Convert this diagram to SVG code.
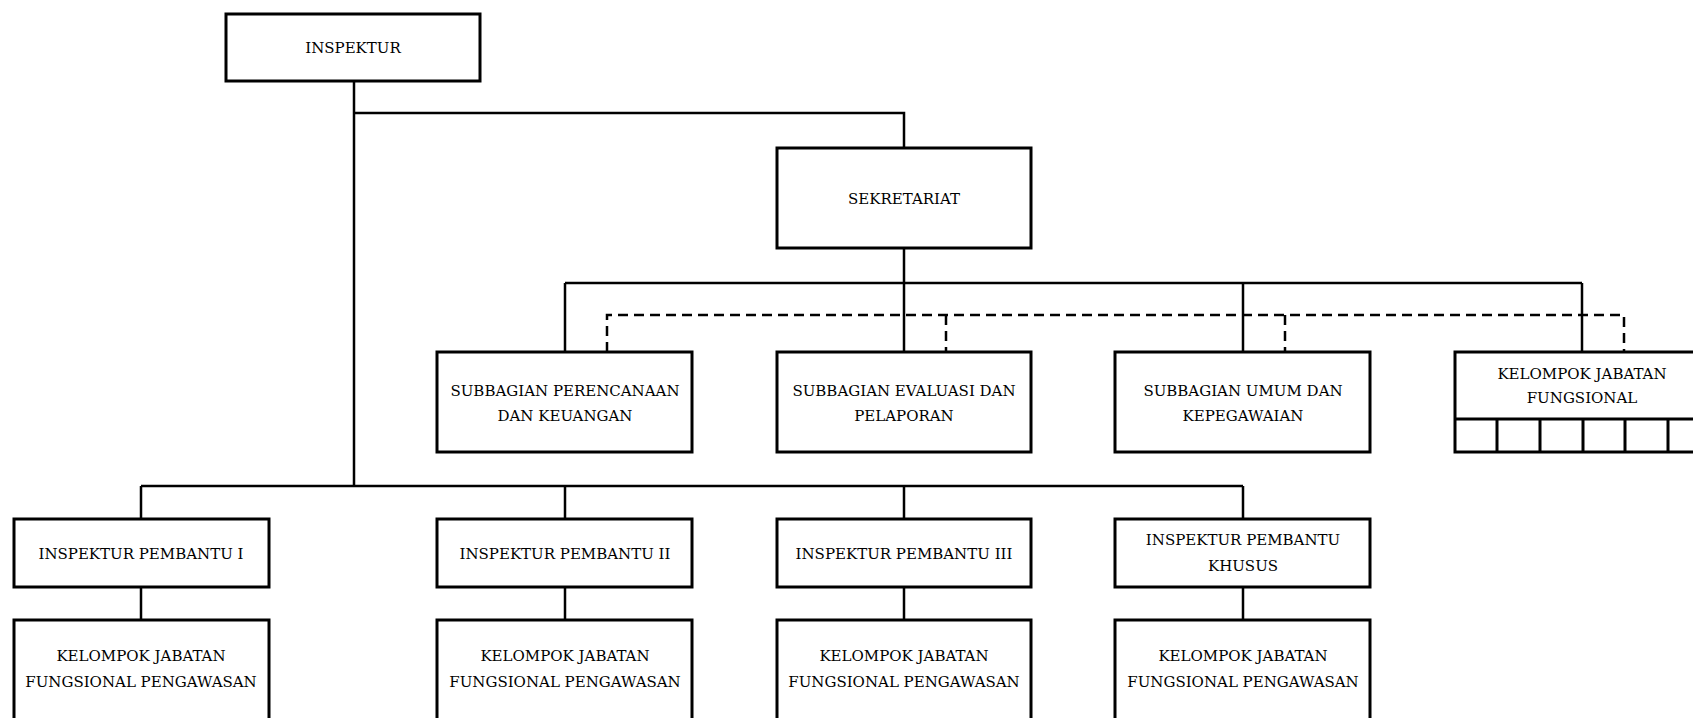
<svg xmlns="http://www.w3.org/2000/svg" width="1693" height="718" viewBox="0 0 1693 718">
<style>
.box{fill:#fff;stroke:#000;stroke-width:3}
.ln{fill:none;stroke:#000;stroke-width:2.5}
.dl{fill:none;stroke:#000;stroke-width:2.5;stroke-dasharray:10 6}
text{font-family:"DejaVu Serif","Liberation Serif",serif;font-size:15px;fill:#000;text-anchor:middle}
</style>
<rect width="1693" height="718" fill="#fff"/>
<g id="connectors">
<path class="ln" d="M354 81V486M354 113H904V148"/>
<path class="ln" d="M904 248V283M565 283H1582M565 283V352M904 283V352M1243 283V352M1582 283V352"/>
<path class="dl" d="M607 352V315H1624V352M946 315V352M1285 315V352"/>
<path class="ln" d="M141 486H1243M141 486V519M565 486V519M904 486V519M1243 486V519"/>
<path class="ln" d="M141 587V620M565 587V620M904 587V620M1243 587V620"/>
</g>
<g id="inspektur"><rect class="box" x="226" y="14" width="254" height="67"/><text x="353" y="53">INSPEKTUR</text></g>
<g id="sekretariat"><rect class="box" x="777" y="148" width="254" height="100"/><text x="904" y="204">SEKRETARIAT</text></g>
<g id="sub-perencanaan"><rect class="box" x="437" y="352" width="255" height="100"/><text x="565" y="396">SUBBAGIAN PERENCANAAN</text><text x="565" y="421">DAN KEUANGAN</text></g>
<g id="sub-evaluasi"><rect class="box" x="777" y="352" width="254" height="100"/><text x="904" y="396">SUBBAGIAN EVALUASI DAN</text><text x="904" y="421">PELAPORAN</text></g>
<g id="sub-umum"><rect class="box" x="1115" y="352" width="255" height="100"/><text x="1243" y="396">SUBBAGIAN UMUM DAN</text><text x="1243" y="421">KEPEGAWAIAN</text></g>
<g id="kjf"><rect class="box" x="1455" y="352" width="260" height="100"/><path class="box" d="M1455 419H1715M1497 419V452M1540 419V452M1583 419V452M1625 419V452M1668 419V452"/><text x="1582" y="379">KELOMPOK JABATAN</text><text x="1582" y="403">FUNGSIONAL</text></g>
<g id="ip1"><rect class="box" x="14" y="519" width="255" height="68"/><text x="141" y="559">INSPEKTUR PEMBANTU I</text></g>
<g id="ip2"><rect class="box" x="437" y="519" width="255" height="68"/><text x="565" y="559">INSPEKTUR PEMBANTU II</text></g>
<g id="ip3"><rect class="box" x="777" y="519" width="254" height="68"/><text x="904" y="559">INSPEKTUR PEMBANTU III</text></g>
<g id="ipk"><rect class="box" x="1115" y="519" width="255" height="68"/><text x="1243" y="545">INSPEKTUR PEMBANTU</text><text x="1243" y="571">KHUSUS</text></g>
<g id="kjfp1"><rect class="box" x="14" y="620" width="255" height="110"/><text x="141" y="661">KELOMPOK JABATAN</text><text x="141" y="687">FUNGSIONAL PENGAWASAN</text></g>
<g id="kjfp2"><rect class="box" x="437" y="620" width="255" height="110"/><text x="565" y="661">KELOMPOK JABATAN</text><text x="565" y="687">FUNGSIONAL PENGAWASAN</text></g>
<g id="kjfp3"><rect class="box" x="777" y="620" width="254" height="110"/><text x="904" y="661">KELOMPOK JABATAN</text><text x="904" y="687">FUNGSIONAL PENGAWASAN</text></g>
<g id="kjfp4"><rect class="box" x="1115" y="620" width="255" height="110"/><text x="1243" y="661">KELOMPOK JABATAN</text><text x="1243" y="687">FUNGSIONAL PENGAWASAN</text></g>
</svg>
